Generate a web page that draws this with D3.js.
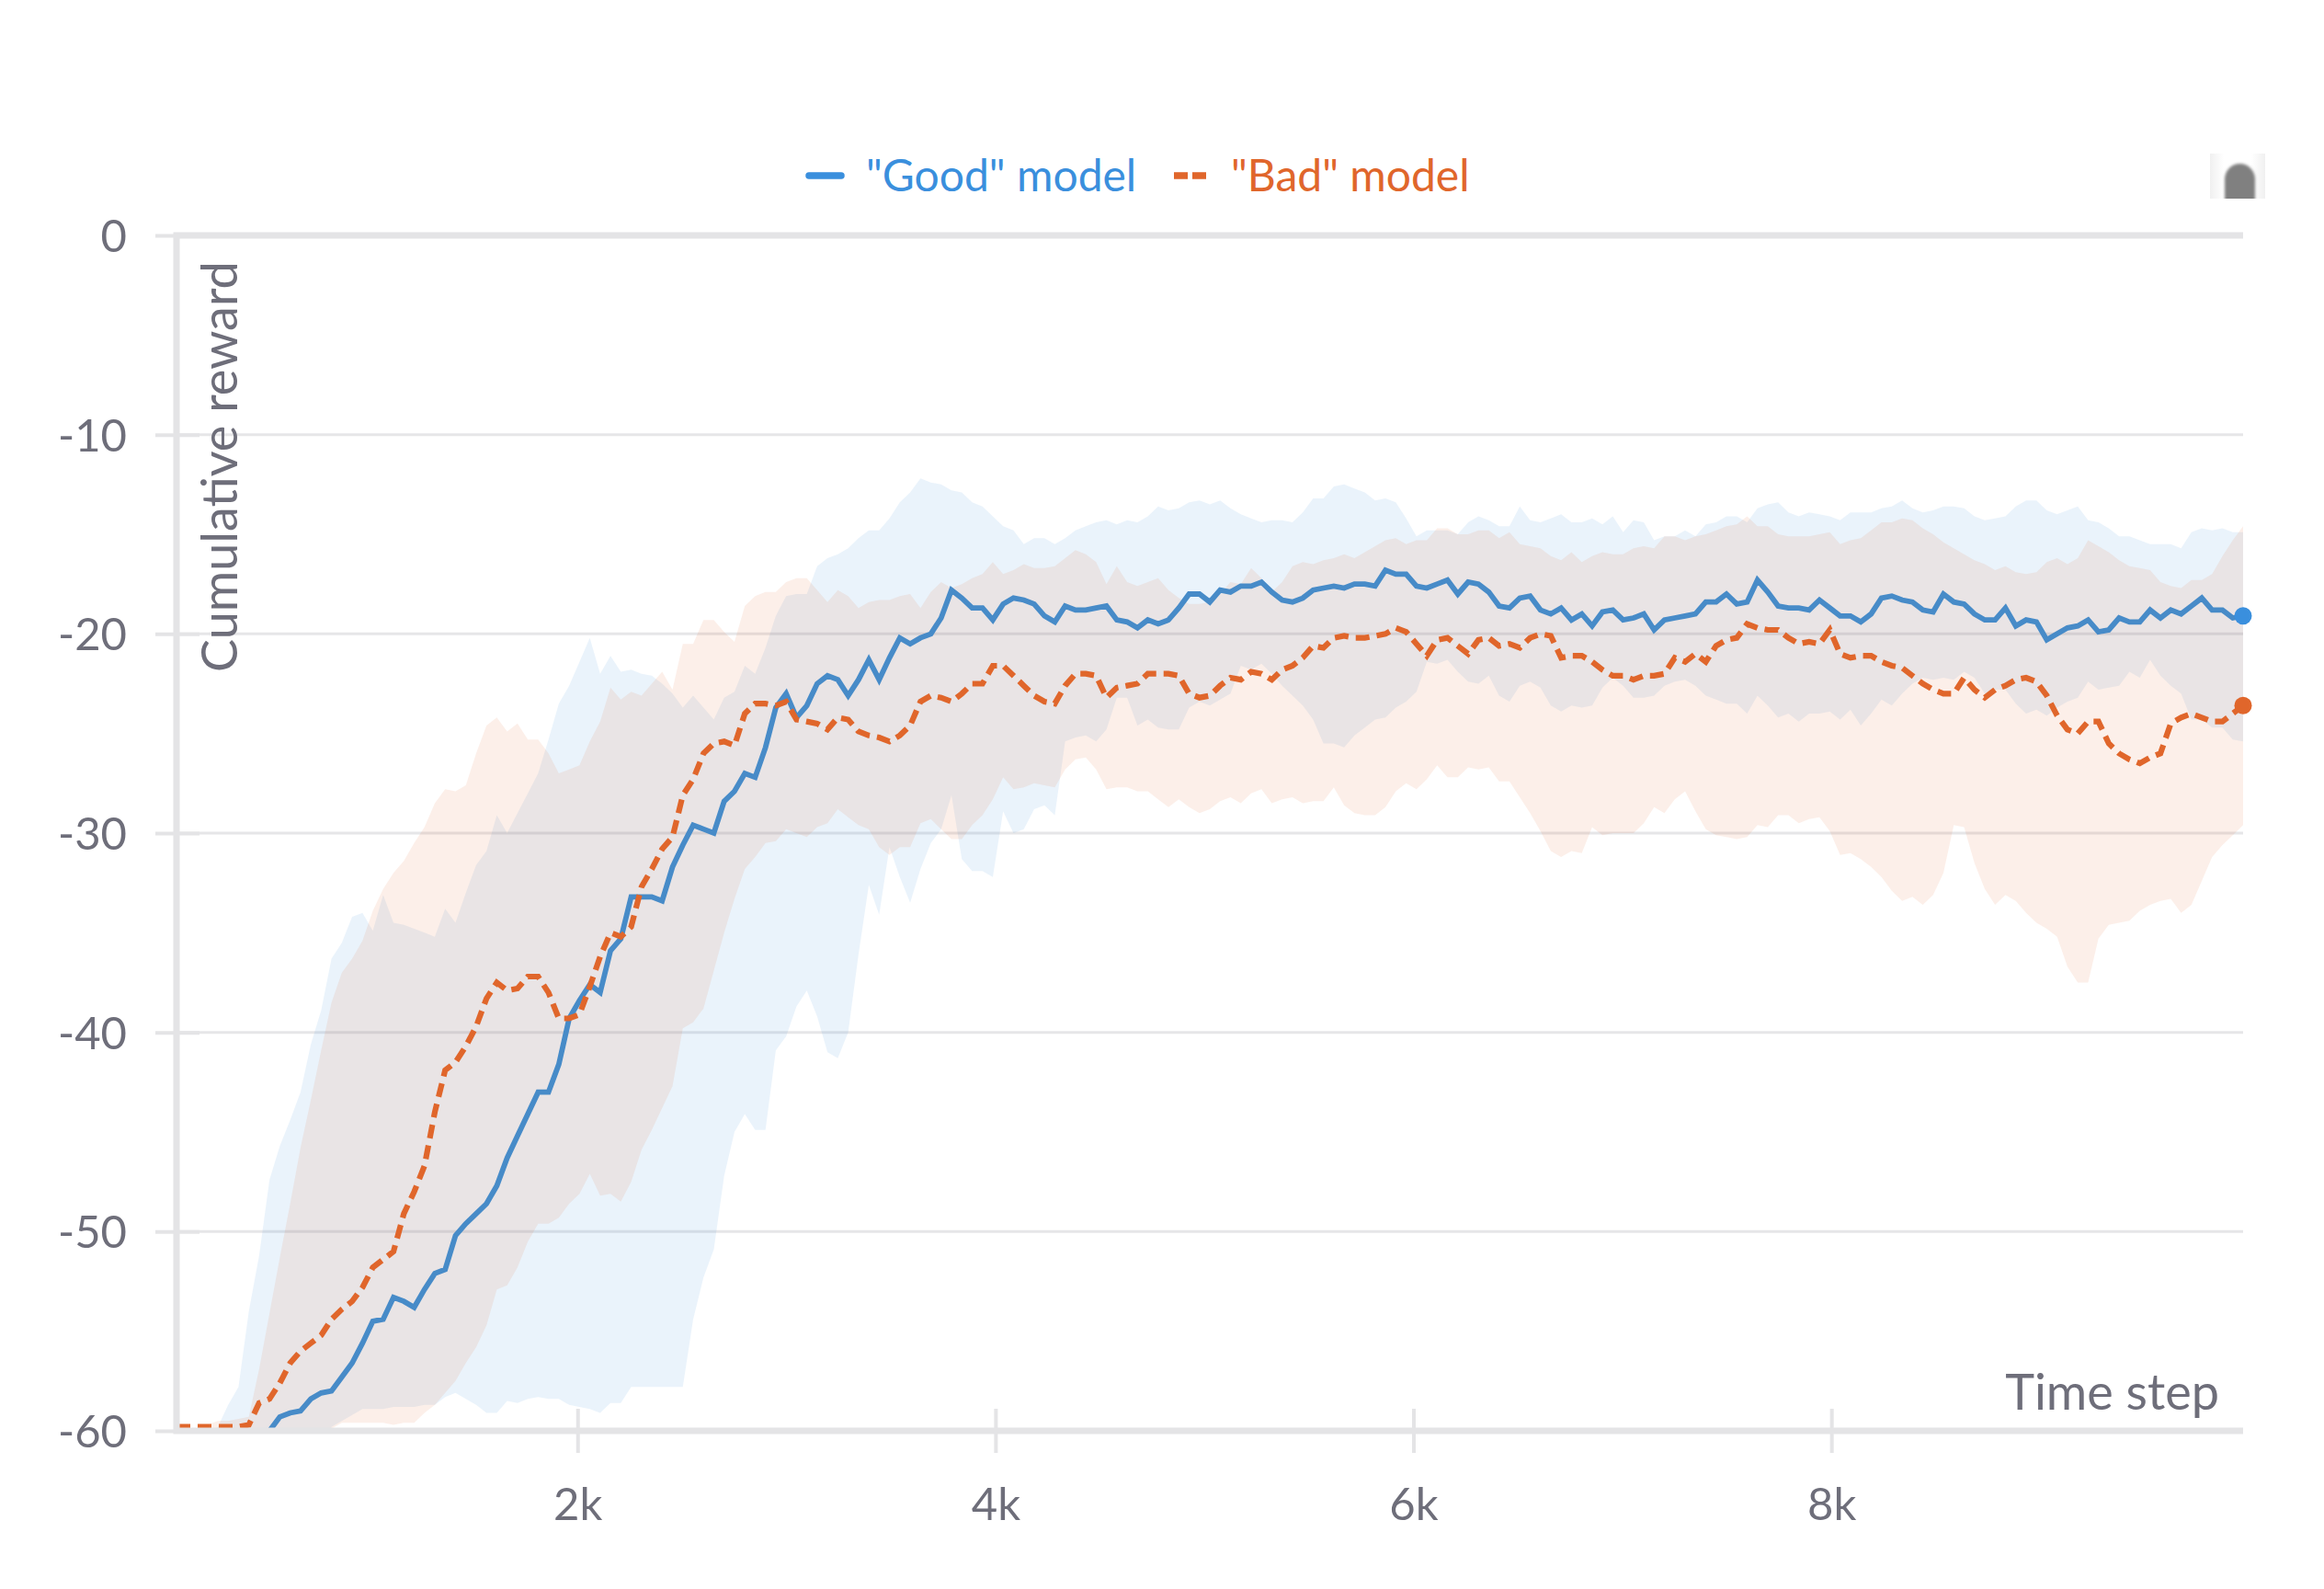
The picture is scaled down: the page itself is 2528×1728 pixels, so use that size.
<!DOCTYPE html>
<html><head><meta charset="utf-8">
<script src="https://cdn.jsdelivr.net/npm/d3@7"></script>
<style>html,body{margin:0;background:#fff}svg{display:block}text{font-family:Lato,"Noto Sans",sans-serif}</style>
</head><body><svg id="c" width="2528" height="1728"></svg>
<script>
const seriesNames=['"Good" model','"Bad" model'];
const xTicks=[2000,4000,6000,8000];
const yTicks=[0,-10,-20,-30,-40,-50,-60];
const goodMean=[-61,-61,-61,-61,-61,-61,-61,-61,-60.6,-60.0,
-59.3,-59.1,-59.0,-58.4,-58.1,-58.0,-57.3,-56.6,-55.6,-54.5,
-54.4,-53.3,-53.5,-53.8,-52.9,-52.1,-51.9,-50.2,-49.6,-49.1,
-48.6,-47.7,-46.3,-45.2,-44.1,-43.0,-43.0,-41.6,-39.3,-38.4,
-37.6,-38.0,-35.9,-35.3,-33.2,-33.2,-33.2,-33.4,-31.7,-30.6,
-29.6,-29.8,-30.0,-28.4,-27.9,-27.0,-27.2,-25.7,-23.7,-23.0,
-24.2,-23.6,-22.5,-22.1,-22.3,-23.1,-22.3,-21.3,-22.3,-21.2,
-20.2,-20.5,-20.2,-20.0,-19.2,-17.8,-18.2,-18.7,-18.7,-19.3,
-18.5,-18.2,-18.3,-18.5,-19.1,-19.4,-18.6,-18.8,-18.8,-18.7,
-18.6,-19.3,-19.4,-19.7,-19.3,-19.5,-19.3,-18.7,-18.0,-18.0,
-18.4,-17.8,-17.9,-17.6,-17.6,-17.4,-17.9,-18.3,-18.4,-18.2,
-17.8,-17.7,-17.6,-17.7,-17.5,-17.5,-17.6,-16.8,-17.0,-17.0,
-17.6,-17.7,-17.5,-17.3,-18.0,-17.4,-17.5,-17.9,-18.6,-18.7,
-18.2,-18.1,-18.8,-19.0,-18.7,-19.3,-19.0,-19.6,-18.9,-18.8,
-19.3,-19.2,-19.0,-19.8,-19.3,-19.2,-19.1,-19.0,-18.4,-18.4,
-18.0,-18.5,-18.4,-17.3,-17.9,-18.6,-18.7,-18.7,-18.8,-18.3,
-18.7,-19.1,-19.1,-19.4,-19.0,-18.2,-18.1,-18.3,-18.4,-18.8,
-18.9,-18.0,-18.4,-18.5,-19.0,-19.3,-19.3,-18.7,-19.6,-19.3,
-19.4,-20.3,-20.0,-19.7,-19.6,-19.3,-19.9,-19.8,-19.2,-19.4,
-19.4,-18.8,-19.2,-18.8,-19.0,-18.6,-18.2,-18.8,-18.8,-19.2,-19.1];
const badMean=[-59.8,-59.8,-59.8,-59.8,-59.8,-59.8,-59.8,-59.7,-58.6,-58.4,
-57.6,-56.6,-56.0,-55.6,-55.2,-54.4,-53.9,-53.5,-52.8,-51.8,
-51.4,-51.0,-49.1,-48.0,-46.7,-44.0,-41.9,-41.5,-40.7,-39.7,
-38.3,-37.5,-37.9,-37.8,-37.2,-37.2,-38.0,-39.3,-39.3,-39.1,
-37.7,-36.2,-35.0,-35.2,-34.7,-32.7,-31.8,-30.8,-30.2,-28.1,
-27.3,-26.0,-25.5,-25.4,-25.6,-24.0,-23.5,-23.5,-23.6,-23.4,
-24.3,-24.4,-24.5,-24.8,-24.2,-24.3,-24.9,-25.1,-25.2,-25.4,
-25.1,-24.6,-23.4,-23.1,-23.2,-23.4,-23.0,-22.5,-22.5,-21.6,
-21.6,-22.1,-22.6,-23.1,-23.4,-23.5,-22.6,-22.0,-22.0,-22.1,
-23.2,-22.7,-22.6,-22.5,-22.0,-22.0,-22.0,-22.1,-23.0,-23.2,
-23.1,-22.6,-22.2,-22.3,-21.9,-22.0,-22.3,-21.8,-21.6,-21.2,
-20.6,-20.7,-20.2,-20.1,-20.2,-20.2,-20.1,-20.0,-19.7,-19.9,
-20.5,-21.1,-20.3,-20.2,-20.6,-21.0,-20.3,-20.2,-20.6,-20.5,
-20.7,-20.2,-20.0,-20.1,-21.2,-21.1,-21.1,-21.4,-21.8,-22.1,
-22.1,-22.3,-22.1,-22.1,-22.0,-21.2,-21.4,-21.0,-21.4,-20.6,
-20.3,-20.2,-19.5,-19.7,-19.8,-19.8,-20.2,-20.5,-20.4,-20.5,
-19.8,-21.0,-21.2,-21.1,-21.1,-21.4,-21.6,-21.7,-22.1,-22.5,
-22.8,-23.0,-23.0,-22.2,-22.8,-23.2,-22.8,-22.6,-22.3,-22.2,
-22.4,-23.1,-24.1,-24.8,-25.0,-24.4,-24.4,-25.5,-26.0,-26.3,
-26.5,-26.2,-26.0,-24.5,-24.2,-24.0,-24.2,-24.4,-24.4,-24.0,-23.6];
const goodUpper=[-60.5,-60.5,-60.5,-60.3,-59.8,-58.7,-57.8,-54.0,-51.2,-47.4,
-45.7,-44.4,-43.0,-40.6,-38.9,-36.3,-35.5,-34.2,-34.0,-34.9,
-33.1,-34.5,-34.6,-34.8,-35.0,-35.2,-33.8,-34.5,-33.0,-31.6,
-30.9,-29.1,-30.0,-29.0,-28.0,-27.0,-25.3,-23.5,-22.6,-21.4,
-20.2,-22.0,-21.1,-21.9,-21.8,-22.0,-22.1,-22.5,-23.0,-23.7,
-23.1,-23.7,-24.3,-23.2,-22.9,-21.6,-22.0,-20.7,-19.1,-18.1,
-18.0,-18.0,-16.6,-16.2,-16.0,-15.7,-15.2,-14.8,-14.8,-14.2,
-13.4,-12.9,-12.2,-12.4,-12.5,-12.8,-12.9,-13.4,-13.6,-14.1,
-14.6,-14.8,-15.5,-15.2,-15.2,-15.5,-15.2,-14.8,-14.6,-14.4,
-14.3,-14.5,-14.3,-14.4,-14.1,-13.6,-13.8,-13.7,-13.4,-13.3,
-13.5,-13.3,-13.7,-14.0,-14.2,-14.4,-14.3,-14.3,-14.4,-13.9,
-13.2,-13.2,-12.6,-12.5,-12.7,-12.9,-13.3,-13.2,-13.4,-14.2,
-15.1,-14.8,-14.8,-14.8,-15.0,-14.4,-14.1,-14.3,-14.6,-14.6,
-13.6,-14.3,-14.4,-14.2,-14.0,-14.4,-14.4,-14.2,-14.5,-14.1,
-14.9,-14.3,-14.4,-15.3,-15.1,-15.1,-14.8,-15.1,-14.5,-14.4,
-14.1,-14.1,-14.4,-13.7,-13.5,-13.4,-13.9,-14.1,-13.9,-14.0,
-14.1,-14.3,-13.9,-13.9,-13.9,-13.7,-13.6,-13.3,-13.7,-13.9,
-13.8,-13.6,-13.6,-13.7,-14.1,-14.3,-14.2,-14.1,-13.6,-13.3,
-13.3,-13.8,-14.0,-13.8,-13.6,-14.3,-14.4,-14.7,-15.1,-15.1,
-15.3,-15.5,-15.5,-15.5,-15.7,-14.9,-14.7,-14.8,-14.7,-14.9,-14.9];
const goodLower=[-62,-62,-62,-62,-62,-62,-62,-62,-62,-62,
-62,-62,-62,-62,-62,-59.8,-59.5,-59.2,-58.9,-58.9,
-58.9,-58.8,-58.8,-58.8,-58.7,-58.7,-58.3,-58.1,-58.4,-58.7,
-59.1,-59.1,-58.5,-58.6,-58.4,-58.3,-58.4,-58.4,-58.7,-58.8,
-58.9,-59.1,-58.6,-58.6,-57.8,-57.8,-57.8,-57.8,-57.8,-57.8,
-54.4,-52.3,-50.9,-47.2,-45.0,-44.1,-44.9,-44.9,-40.9,-40.2,
-38.7,-37.9,-39.2,-41.0,-41.3,-40.0,-36.1,-32.6,-34.1,-30.7,
-32.2,-33.5,-31.8,-30.5,-29.8,-28.1,-31.3,-31.9,-31.9,-32.2,
-28.9,-30.0,-29.8,-28.8,-28.6,-29.1,-25.4,-25.2,-25.1,-25.4,
-24.8,-23.2,-23.2,-24.6,-24.3,-24.7,-24.8,-24.8,-23.7,-23.4,
-23.6,-23.3,-23.0,-21.6,-21.8,-21.5,-22.0,-22.6,-23.1,-23.6,
-24.3,-25.5,-25.5,-25.7,-25.1,-24.7,-24.3,-24.2,-23.7,-23.4,
-22.9,-21.4,-21.5,-21.3,-21.9,-22.4,-22.5,-22.1,-23.1,-23.4,
-22.6,-22.4,-22.7,-23.6,-23.9,-23.6,-23.7,-23.6,-22.7,-22.2,
-22.6,-23.2,-23.2,-23.1,-22.6,-22.4,-22.3,-22.6,-23.1,-23.3,
-23.5,-23.5,-24.0,-23.1,-23.6,-24.2,-24.0,-24.4,-24.0,-24.0,
-23.9,-24.3,-23.8,-24.6,-24.0,-23.3,-23.6,-23.0,-22.5,-22.2,
-22.3,-22.2,-22.3,-21.9,-22.2,-23.0,-22.8,-22.8,-23.5,-24.0,
-23.8,-24.1,-23.7,-23.4,-23.2,-22.4,-22.8,-22.7,-22.6,-21.9,
-22.2,-21.3,-22.1,-22.6,-23.0,-24.3,-24.3,-24.7,-24.7,-25.3,-25.4];
const badUpper=[-60,-60,-60,-59.7,-59.5,-59.5,-59.4,-59.3,-56.9,-54.1,
-51.3,-48.6,-45.8,-43.4,-40.9,-38.5,-37.0,-36.3,-35.4,-33.9,
-32.8,-32.0,-31.4,-30.5,-29.7,-28.5,-27.8,-27.9,-27.6,-26.0,
-24.6,-24.2,-24.9,-24.5,-25.3,-25.3,-26.0,-27.0,-26.8,-26.6,
-25.4,-24.4,-22.7,-23.3,-22.9,-23.1,-22.5,-21.9,-22.8,-20.5,
-20.5,-19.3,-19.3,-19.9,-20.4,-18.6,-18.1,-17.9,-17.9,-17.4,
-17.2,-17.2,-17.8,-18.4,-17.8,-18.1,-18.7,-18.4,-18.3,-18.3,
-18.1,-18.0,-18.7,-17.9,-17.4,-17.7,-17.5,-17.2,-17.0,-16.4,
-17.0,-16.8,-16.5,-16.7,-16.7,-16.6,-16.2,-15.8,-16.0,-16.4,
-17.5,-16.6,-17.4,-17.6,-17.4,-17.2,-17.8,-18.2,-18.5,-18.5,
-18.4,-18.0,-17.4,-17.5,-16.7,-17.2,-17.9,-17.4,-16.6,-16.4,
-16.5,-16.3,-16.2,-16.0,-16.2,-15.9,-15.6,-15.3,-15.2,-15.5,
-15.3,-15.3,-14.7,-14.7,-15.0,-15.0,-14.8,-14.8,-15.2,-14.9,
-15.5,-15.6,-15.7,-16.1,-16.3,-15.9,-16.4,-16.1,-15.9,-16.0,
-16.0,-15.7,-15.6,-15.7,-15.1,-15.1,-15.3,-15.1,-15.0,-14.8,
-14.6,-14.5,-14.1,-14.6,-14.6,-15.0,-15.1,-15.1,-15.1,-15.0,
-14.9,-15.5,-15.3,-15.2,-14.8,-14.4,-14.4,-14.2,-14.3,-14.7,
-15.0,-15.4,-15.7,-16.0,-16.3,-16.5,-16.8,-16.6,-16.9,-17.0,
-16.9,-16.4,-16.2,-16.5,-16.2,-15.3,-15.6,-15.9,-16.3,-16.6,
-16.7,-16.8,-17.4,-17.6,-17.7,-17.3,-17.3,-17.0,-16.1,-15.3,-14.6];
const badLower=[-62,-62,-62,-62,-62,-62,-62,-62,-62,-62,
-62,-62,-62,-62,-62,-59.9,-59.6,-59.6,-59.6,-59.6,
-59.6,-59.7,-59.6,-59.6,-59.1,-58.7,-58.1,-57.5,-56.6,-55.8,
-54.7,-52.9,-52.7,-51.8,-50.5,-49.6,-49.6,-49.3,-48.6,-48.1,
-47.1,-48.2,-48.1,-48.5,-47.5,-45.9,-44.9,-43.8,-42.7,-39.8,
-39.5,-38.8,-36.9,-35.0,-33.3,-31.8,-31.2,-30.5,-30.4,-29.8,
-30.0,-30.2,-29.7,-29.5,-28.8,-29.2,-29.6,-29.8,-30.7,-31.1,
-30.7,-30.7,-29.5,-29.3,-29.8,-30.3,-30.3,-29.6,-29.1,-28.3,
-27.2,-27.8,-27.7,-27.5,-27.6,-27.7,-26.8,-26.3,-26.2,-26.8,
-27.8,-27.7,-27.7,-27.9,-27.9,-28.3,-28.7,-28.3,-28.7,-29.0,
-28.8,-28.4,-28.2,-28.5,-28.0,-27.8,-28.5,-28.3,-28.2,-28.5,
-28.4,-28.4,-27.7,-28.6,-29.0,-29.1,-29.1,-28.7,-27.9,-27.5,
-27.8,-27.3,-26.6,-27.2,-27.2,-26.7,-26.8,-26.7,-27.4,-27.4,
-28.2,-29.0,-29.9,-30.9,-31.2,-30.9,-31.0,-29.7,-30.1,-30.0,
-30.0,-30.0,-29.5,-28.7,-29.0,-28.3,-27.9,-28.9,-29.8,-30.1,
-30.2,-30.3,-30.2,-29.6,-29.7,-29.1,-29.1,-29.5,-29.3,-29.2,
-29.9,-31.1,-31.0,-31.3,-31.7,-32.2,-32.9,-33.4,-33.2,-33.6,
-33.1,-32.0,-29.6,-29.7,-31.5,-32.8,-33.6,-33.1,-33.4,-34.0,
-34.5,-34.8,-35.2,-36.7,-37.5,-37.5,-35.3,-34.6,-34.5,-34.4,
-33.9,-33.6,-33.4,-33.3,-34.0,-33.6,-32.4,-31.2,-30.6,-30.1,-29.6];
const firstStep=81,lastStep=9970;
const timeSteps=goodMean.map((_,i)=>firstStep+i*(lastStep-firstStep)/(goodMean.length-1));

const W=2528,H=1728,L=192,R=2440,T=256,B=1556;
const blue='#3a8fdd',blueLine='#478bc8',orange='#e0662b',ink='#6e6e7a',rule='#e4e4e6';
const x=d3.scaleLinear().domain([firstStep,lastStep]).range([L,R]);
const y=d3.scaleLinear().domain([-60,0]).range([B,T]);
const svg=d3.select('#c');
const defs=svg.append('defs');
defs.append('clipPath').attr('id','plot').append('rect').attr('x',L).attr('y',T).attr('width',R-L).attr('height',B-T);
defs.append('filter').attr('id','soft').append('feGaussianBlur').attr('stdDeviation',1.4);
const grad=defs.append('linearGradient').attr('id','iconBg');
[[0,'#f0f0f0'],[.25,'#ffffff'],[.75,'#ffffff'],[1,'#f0f0f0']].forEach(s=>grad.append('stop').attr('offset',s[0]).attr('stop-color',s[1]));

// gridlines
svg.append('g').selectAll('line').data(yTicks.slice(1,-1)).join('line')
 .attr('x1',L).attr('x2',R).attr('y1',d=>y(d)).attr('y2',d=>y(d))
 .attr('stroke','#5a5a68').attr('stroke-opacity',.15).attr('stroke-width',3);

const plot=svg.append('g').attr('clip-path','url(#plot)');
const band=(lo,hi)=>d3.area().x((_,i)=>x(timeSteps[i])).y0((_,i)=>y(lo[i])).y1((_,i)=>y(hi[i]))(timeSteps);
plot.append('path').attr('d',band(goodLower,goodUpper)).attr('fill',blue).attr('fill-opacity',.105);
plot.append('path').attr('d',band(badLower,badUpper)).attr('fill',orange).attr('fill-opacity',.1);
const ln=v=>d3.line().x((_,i)=>x(timeSteps[i])).y((_,i)=>y(v[i]))(timeSteps);
plot.append('path').attr('d',ln(goodMean)).attr('fill','none').attr('stroke',blueLine).attr('stroke-width',5.8).attr('stroke-linejoin','miter');
plot.append('path').attr('d',ln(badMean)).attr('fill','none').attr('stroke',orange).attr('stroke-width',6.2).attr('stroke-dasharray','15,8');

// frame
const frame=svg.append('g').attr('stroke',rule).attr('stroke-width',7).attr('fill','none');
frame.append('path').attr('d',d3.line()([[R,T],[L,T],[L,B],[R,B]]));

// axes
const yAxis=d3.axisLeft(y).tickValues(yTicks).tickSize(48).tickPadding(31).tickFormat(d=>String(d));
const gy=svg.append('g').attr('transform',`translate(217,0)`).call(yAxis);
const xAxis=d3.axisBottom(x).tickValues(xTicks).tickSize(48).tickPadding(38).tickFormat(d=>(d/1000)+'k');
const gx=svg.append('g').attr('transform',`translate(0,1532)`).call(xAxis);
[gy,gx].forEach(g=>{g.select('.domain').remove();
 g.selectAll('line').attr('stroke',rule).attr('stroke-width',4);
 g.selectAll('text').attr('fill',ink).attr('font-size',49).style('font-family','Lato');});
gy.selectAll('text').attr('dy','.36em');

// axis titles
svg.append('text').attr('transform','translate(258,731) rotate(-90)').attr('fill',ink).attr('font-size',54).text('Cumulative reward');
svg.append('text').attr('x',2414).attr('y',1533).attr('text-anchor','end').attr('fill',ink).attr('font-size',54).text('Time step');

// legend
svg.append('line').attr('x1',880).attr('x2',915).attr('y1',191).attr('y2',191).attr('stroke',blue).attr('stroke-width',7.5).attr('stroke-linecap','round');
svg.append('text').attr('x',942).attr('y',208).attr('fill',blue).attr('font-size',48).text(seriesNames[0]);
svg.append('line').attr('x1',1277).attr('x2',1312).attr('y1',191).attr('y2',191).attr('stroke',orange).attr('stroke-width',7.5).attr('stroke-dasharray','15,5');
svg.append('text').attr('x',1339).attr('y',208).attr('fill',orange).attr('font-size',48).text(seriesNames[1]);

// icon
svg.append('rect').attr('x',2404).attr('y',167).attr('width',60).attr('height',49).attr('fill','url(#iconBg)');
const iconClip=defs.append('clipPath').attr('id','iconClip');
iconClip.append('rect').attr('x',2404).attr('y',167).attr('width',60).attr('height',49);
svg.append('g').attr('clip-path','url(#iconClip)').append('path').attr('d','M2420 224V195a16.5 17 0 0 1 33 0V224Z').attr('fill','#808080').attr('filter','url(#soft)');

// end dots
const last=goodMean.length-1;
svg.append('circle').attr('cx',x(timeSteps[last])).attr('cy',y(goodMean[last])).attr('r',9.5).attr('fill',blue);
svg.append('circle').attr('cx',x(timeSteps[last])).attr('cy',y(badMean[last])).attr('r',9.5).attr('fill',orange);
</script></body></html>
